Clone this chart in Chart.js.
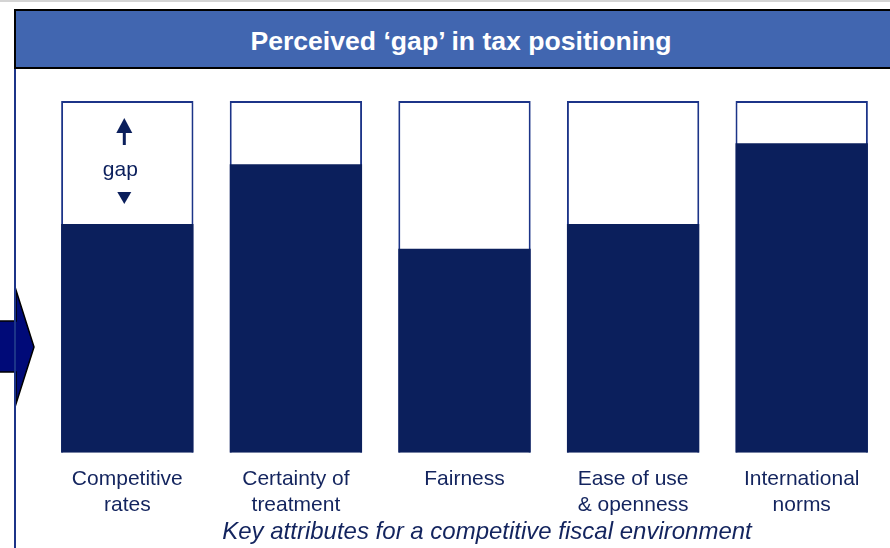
<!DOCTYPE html>
<html>
<head>
<meta charset="utf-8">
<script src="https://cdn.jsdelivr.net/npm/chart.js@4.4.1/dist/chart.umd.min.js"></script>
<style>
  html, body { margin: 0; padding: 0; background: #fff; overflow: hidden; }
  #wrap { position: relative; width: 890px; height: 548px; }
  #gapChart { position: absolute; left: 0; top: 0; }
  #topline { position: absolute; left: 0; top: 0; width: 890px; height: 2px; background: #d4d4d4; }
  #banner {
    position: absolute; left: 14px; top: 9px; width: 890px; height: 56px;
    background: #4166b0; border: 2px solid #000; border-right: none;
    color: #fff; font: bold 26.6px "Liberation Sans", Arial, sans-serif;
    line-height: 60px;
  }
  #banner span { position: absolute; left: 0; width: 890px; text-align: center; }
  #footer {
    position: absolute; left: 0; width: 974px; top: 517px; text-align: center;
    font: italic 24px "Liberation Sans", Arial, sans-serif; color: #13245e;
  }
</style>
</head>
<body>
<div id="wrap">
  <canvas id="gapChart" width="890" height="548"></canvas>
  <div id="topline"></div>
  <div id="banner"><span>Perceived ‘gap’ in tax positioning</span></div>
  <div id="footer">Key attributes for a competitive fiscal environment</div>
</div>
<script>
// values, scale 0..100 (100 = top of each box)
const attributes = [
    ['Competitive', 'rates'],
    ['Certainty of', 'treatment'],
    ['Fairness'],
    ['Ease of use', '& openness'],
    ['International', 'norms']
];
const positioning = [65, 82, 58, 65, 88];
const ceiling = [100, 100, 100, 100, 100];

const navy = '#0b1f5c';
const boxLine = '#1c3488';

// left border line, input arrow and the 'gap' marker on the first bar
const decor = {
    id: 'decor',
    afterDatasetsDraw(chart) {
        const c = chart.ctx;
        const y = chart.scales.y;
        c.save();

        c.beginPath();
        c.moveTo(-2, 321);
        c.lineTo(16, 321);
        c.lineTo(16, 290);
        c.lineTo(34, 347);
        c.lineTo(16, 404);
        c.lineTo(16, 372);
        c.lineTo(-2, 372);
        c.closePath();
        c.fillStyle = '#000a78';
        c.fill();
        c.lineWidth = 1.5;
        c.strokeStyle = '#000';
        c.stroke();

        c.fillStyle = boxLine;
        c.fillRect(14, 68, 2, 480);

        const bar = chart.getDatasetMeta(1).data[0];
        const top = y.getPixelForValue(ceiling[0]);
        const bot = y.getPixelForValue(positioning[0]);
        const cx = bar.x - 3;
        c.fillStyle = navy;
        c.beginPath();
        c.moveTo(cx, top + 17);
        c.lineTo(cx + 8, top + 32);
        c.lineTo(cx - 8, top + 32);
        c.closePath();
        c.fill();
        c.fillRect(cx - 1.5, top + 30, 3, 14);

        c.font = '21px "Liberation Sans", Arial, sans-serif';
        c.textAlign = 'center';
        c.textBaseline = 'middle';
        c.fillText('gap', cx - 4, top + 69);

        c.beginPath();
        c.moveTo(cx - 7, bot - 32);
        c.lineTo(cx + 7, bot - 32);
        c.lineTo(cx, bot - 20);
        c.closePath();
        c.fill();
        c.restore();
    }
};

new Chart(document.getElementById('gapChart'), {
    type: 'bar',
    data: {
        labels: attributes,
        datasets: [{
            label: 'Positioning',
            data: positioning,
            backgroundColor: navy,
            borderWidth: 0,
            order: 1
        }, {
            label: 'Box',
            data: ceiling,
            backgroundColor: '#ffffff',
            borderColor: boxLine,
            borderWidth: 2,
            order: 2
        }]
    },
    options: {
        responsive: false,
        animation: false,
        events: [],
        layout: {
            padding: { left: 43, right: 4, top: 101, bottom: 24 }
        },
        datasets: {
            bar: {
                grouped: false,
                barPercentage: 0.785,
                categoryPercentage: 1
            }
        },
        plugins: {
            legend: { display: false },
            tooltip: { enabled: false }
        },
        scales: {
            x: {
                grid: { display: false },
                border: { display: false },
                ticks: {
                    color: '#13245e',
                    padding: 6,
                    maxRotation: 0,
                    autoSkip: false,
                    font: { family: '"Liberation Sans", Arial, sans-serif', size: 21, lineHeight: 1.22 }
                }
            },
            y: {
                display: false,
                min: 0,
                max: 100
            }
        }
    },
    plugins: [decor]
});
</script>
</body>
</html>
